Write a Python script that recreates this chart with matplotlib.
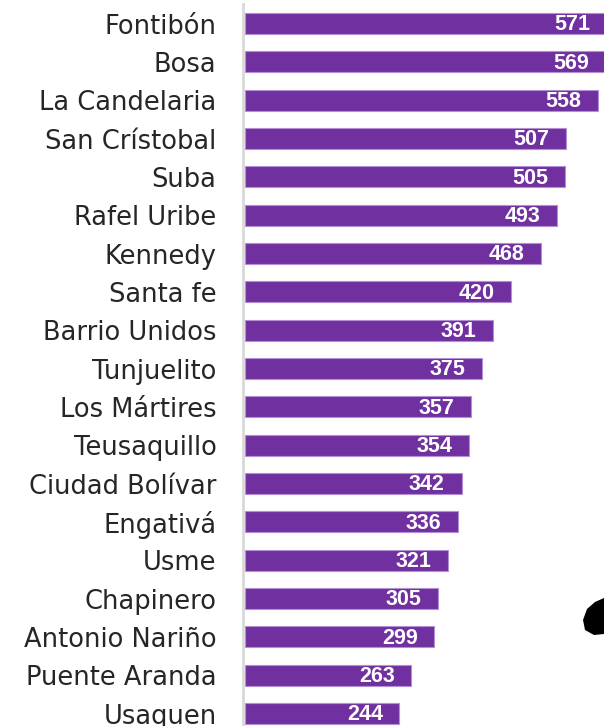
import matplotlib
matplotlib.use("Agg")
import matplotlib.pyplot as plt
from matplotlib.patches import Polygon

# Data
barrios = ["Fontibón", "Bosa", "La Candelaria", "San Crístobal", "Suba",
           "Rafel Uribe", "Kennedy", "Santa fe", "Barrio Unidos", "Tunjuelito",
           "Los Mártires", "Teusaquillo", "Ciudad Bolívar", "Engativá", "Usme",
           "Chapinero", "Antonio Nariño", "Puente Aranda", "Usaquen"]
valores = [571, 569, 558, 507, 505, 493, 468, 420, 391, 375,
           357, 354, 342, 336, 321, 305, 299, 263, 244]

W, H = 604, 726
fig = plt.figure(figsize=(W / 100, H / 100), dpi=100)
# axes: left at x=243px, from y=4 to bottom
ax = fig.add_axes([243 / W, 0, 1 - 243 / W, 1 - 4 / H])

n = len(barrios)
pos = list(range(n))
ax.barh(pos, valores, height=0.55, left=0, color="#7030A0",
        edgecolor="#B38FD6", linewidth=0.8)

ax.set_ylim(18.326, -0.509)
ax.set_xlim(-3, 567)

for s in ["top", "right", "bottom"]:
    ax.spines[s].set_visible(False)
ax.spines["left"].set_color("#d9d9d9")
ax.spines["left"].set_linewidth(2)

ax.set_yticks(pos)
ax.set_yticklabels(barrios, fontsize=18.5, family="DejaVu Sans", color="#262626")
ax.tick_params(axis="y", length=0, pad=19)
ax.set_xticks([])

for y, v in zip(pos, valores):
    ax.annotate(str(v), xy=(v, y), xytext=(-12, -1), textcoords="offset points",
                ha="right", va="center", color="white", fontsize=15.5,
                fontweight="bold", family="Liberation Sans", annotation_clip=False)

# partial black icon at right edge
blob = Polygon([(604, 598), (595, 602), (587, 609), (583, 620), (585, 630),
                (594, 635), (604, 634)], closed=True, facecolor="black",
               edgecolor="none", transform=None)
blob.set_xy([(x, H - y) for x, y in blob.get_xy()])
fig.patches.append(blob)

fig.savefig("out.png", dpi=100)
